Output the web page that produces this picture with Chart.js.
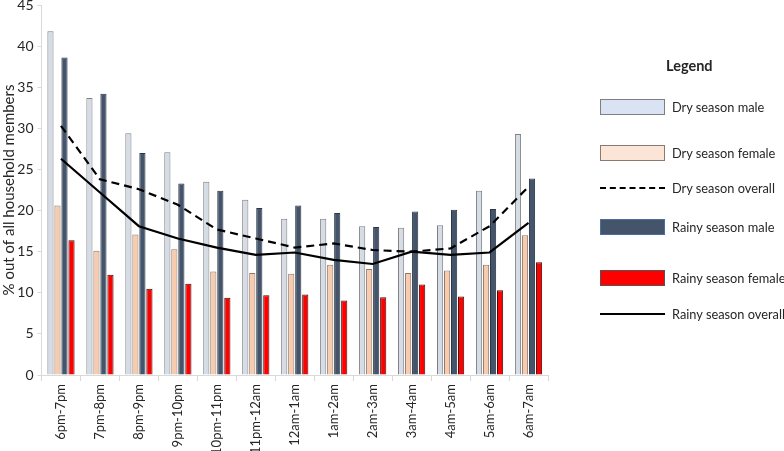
<!DOCTYPE html>
<html>
<head>
<meta charset="utf-8">
<script src="https://cdn.jsdelivr.net/npm/chart.js@4/dist/chart.umd.min.js"></script>
<style>
  html, body { margin: 0; padding: 0; background: #fff; }
  #wrap { position: relative; width: 784px; height: 451px; font-family: Lato, "Open Sans", sans-serif; color: #262626; }
  #c { position: absolute; left: 0; top: 0; }
  .lg-title { position: absolute; left: 666px; top: 57px; font-weight: bold; font-size: 14.5px; }
  .lg-item { position: absolute; left: 600px; height: 16px; display: flex; align-items: center; font-size: 12.8px; white-space: nowrap; }
  .lg-sym { width: 65px; height: 100%; box-sizing: border-box; margin-right: 7px; position: relative; }
  .lg-line { position: absolute; left: 0; right: 0; top: 7px; height: 0; }
</style>
</head>
<body>
<div id="wrap">
  <canvas id="c" width="784" height="451"></canvas>
  <div class="lg-title">Legend</div>
  <div id="legend"></div>
</div>
<script>
const categories = ["6pm-7pm","7pm-8pm","8pm-9pm","9pm-10pm","10pm-11pm","11pm-12am","12am-1am","1am-2am","2am-3am","3am-4am","4am-5am","5am-6am","6am-7am"];
const dryMale     = [41.8, 33.7, 29.4, 27.1, 23.5, 21.3, 19.0, 19.0, 18.1, 17.9, 18.2, 22.4, 29.3];
const dryFemale   = [20.6, 15.1, 17.1, 15.3, 12.6, 12.4, 12.3, 13.4, 12.9, 12.4, 12.7, 13.4, 17.0];
const dryOverall  = [30.3, 23.8, 22.6, 20.7, 17.7, 16.6, 15.5, 16.0, 15.2, 15.0, 15.4, 18.1, 22.9];
const rainyMale   = [38.6, 34.2, 27.0, 23.3, 22.4, 20.3, 20.6, 19.7, 18.0, 19.9, 20.1, 20.2, 23.9];
const rainyFemale = [16.4, 12.2, 10.5, 11.1, 9.4, 9.7, 9.8, 9.05, 9.45, 11.0, 9.55, 10.3, 13.7];
const rainyOverall= [26.3, 22.2, 18.1, 16.6, 15.5, 14.6, 14.9, 14.0, 13.5, 15.0, 14.6, 14.9, 18.5];
const yTitle = "% out of all household members";
const legendLabels = ["Dry season male","Dry season female","Dry season overall","Rainy season male","Rainy season female","Rainy season overall"];

const FONT = "Lato, 'Open Sans', sans-serif";
const TXT = "#262626";
const AXIS = "#d9d9d9";

const barBase = { type: 'bar', order: 1, borderWidth: 1, barPercentage: 0.88, categoryPercentage: 0.72 };
const datasets = [
  Object.assign({}, barBase, { label: legendLabels[0], data: dryMale, backgroundColor: '#d6dce5', borderColor: '#7f7f7f' }),
  Object.assign({}, barBase, { label: legendLabels[1], data: dryFemale, backgroundColor: '#f8cbad', borderColor: '#8a7a70' }),
  Object.assign({}, barBase, { label: legendLabels[3], data: rainyMale, backgroundColor: '#44546a', borderColor: '#2b3645' }),
  Object.assign({}, barBase, { label: legendLabels[4], data: rainyFemale, backgroundColor: '#ff0000', borderColor: '#3a1010' }),
  { type: 'line', order: 0, label: legendLabels[2], data: dryOverall, borderColor: '#000', borderWidth: 2.2, borderDash: [8, 5], pointRadius: 0, fill: false, tension: 0 },
  { type: 'line', order: 0, label: legendLabels[5], data: rainyOverall, borderColor: '#000', borderWidth: 2.2, pointRadius: 0, fill: false, tension: 0 }
];

new Chart(document.getElementById('c'), {
  data: { labels: categories, datasets: datasets },
  options: {
    responsive: false,
    animation: false,
    devicePixelRatio: 1,
    layout: { padding: { left: 0, right: 236, top: 5, bottom: 0 } },
    plugins: { legend: { display: false }, tooltip: { enabled: false } },
    scales: {
      x: {
        grid: { display: true, drawOnChartArea: false, drawTicks: true, tickLength: 6, color: AXIS, offset: true },
        border: { display: true, color: AXIS, width: 1 },
        ticks: { minRotation: 90, maxRotation: 90, autoSkip: false, color: TXT, font: { family: FONT, size: 13 }, padding: 3 },
        afterFit: (s) => { s.height = 76; }
      },
      y: {
        min: 0, max: 45,
        ticks: { stepSize: 5, color: TXT, font: { family: FONT, size: 14 }, padding: 4 },
        grid: { display: true, drawOnChartArea: false, drawTicks: true, tickLength: 4, color: AXIS },
        border: { display: true, color: AXIS, width: 1 },
        title: { display: true, text: yTitle, color: TXT, font: { family: FONT, size: 15 }, padding: { top: 0, bottom: 0 } },
        afterFit: (s) => { s.width = 41.5; s.paddingTop = 0; }
      }
    }
  }
});

// HTML legend
const legendItems = [
  { label: legendLabels[0], kind: 'box', fill: '#dae3f3', stroke: '#7f7f7f', top: 99 },
  { label: legendLabels[1], kind: 'box', fill: '#fbe5d6', stroke: '#8a7a70', top: 145 },
  { label: legendLabels[2], kind: 'dash', top: 180 },
  { label: legendLabels[3], kind: 'box', fill: '#44546a', stroke: '#4a6fa5', top: 219 },
  { label: legendLabels[4], kind: 'box', fill: '#ff0000', stroke: '#555', top: 270 },
  { label: legendLabels[5], kind: 'line', top: 306 }
];
const lg = document.getElementById('legend');
legendItems.forEach(it => {
  const row = document.createElement('div');
  row.className = 'lg-item';
  row.style.top = it.top + 'px';
  const sym = document.createElement('div');
  sym.className = 'lg-sym';
  if (it.kind === 'box') {
    sym.style.background = it.fill;
    sym.style.border = '1.5px solid ' + it.stroke;
  } else {
    const ln = document.createElement('div');
    ln.className = 'lg-line';
    ln.style.borderTop = it.kind === 'dash' ? '2px dashed #000' : '2px solid #000';
    sym.appendChild(ln);
  }
  const t = document.createElement('span');
  t.textContent = it.label;
  row.appendChild(sym);
  row.appendChild(t);
  lg.appendChild(row);
});
</script>
</body>
</html>
